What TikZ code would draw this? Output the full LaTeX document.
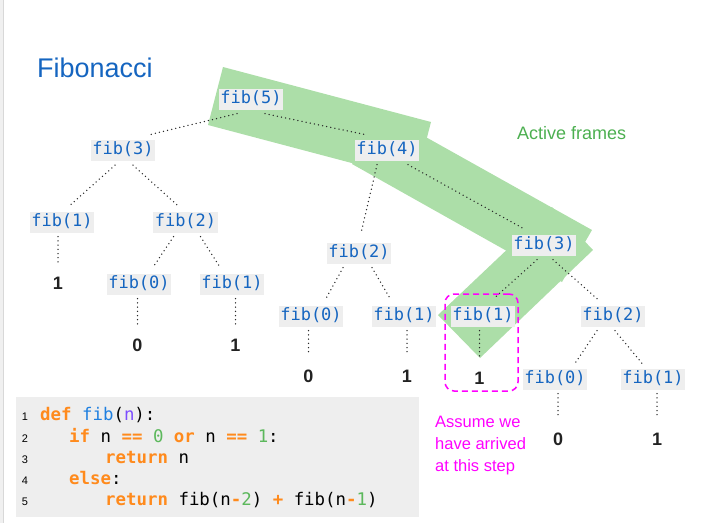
\documentclass[tikz,border=0pt]{standalone}
\usepackage{fontspec}
\setmainfont{Liberation Sans}
\newfontfamily\monof{DejaVu Sans Mono}
\usetikzlibrary{calc}
\definecolor{tblue}{HTML}{1565C0}
\definecolor{boxgray}{HTML}{EEEEEE}
\definecolor{bandgreen}{HTML}{ACDEA8}
\definecolor{agreen}{HTML}{4CAF50}
\definecolor{edgegray}{HTML}{2A2A2A}
\definecolor{valblack}{HTML}{222222}
\definecolor{codebg}{HTML}{EEEEEE}
\definecolor{corange}{HTML}{FF8A1C}
\definecolor{cblue}{HTML}{1E7FE0}
\definecolor{cpurple}{HTML}{7C4DFF}
\definecolor{cgreen}{HTML}{5CB85C}
\definecolor{focusmag}{HTML}{FF00FF}
\definecolor{stripgray}{HTML}{D8D8D8}
\newcommand\kwd[1]{\textcolor{corange}{\bfseries #1}}
\newcommand\opr[1]{\textcolor{corange}{\bfseries #1}}
\newcommand\nmb[1]{\textcolor{cgreen}{#1}}
\newcommand\fibedge[6]{\draw[edge] ($(#1.south)+(#3,#4)$) -- ($(#2.north)+(#5,#6)$);}
\newcommand\valedge[2]{\draw[edge] ($(#1.south -| #2)+(0,4)$) -- ($(#2.north)+(0,-14)$);}
\begin{document}
\begin{tikzpicture}[x=1pt,y=-1pt,
  fibnode/.style={fill=boxgray, text=tblue, font=\monof\fontsize{17}{19}\selectfont,
    inner xsep=1.5pt, inner ysep=2.5pt, text height=12pt, text depth=4pt},
  valnode/.style={font=\bfseries\fontsize{18}{20}\selectfont, text=valblack, inner sep=0pt},
  edge/.style={draw=edgegray, line width=1.5pt, line cap=round, dash pattern=on 0pt off 4.2pt},
  band/.style={fill=bandgreen},
  code/.style={anchor=base west, inner sep=0pt, font=\monof\fontsize{17.4}{20}\selectfont},
  lnum/.style={anchor=base, inner sep=0pt, font=\fontsize{11}{13}\selectfont},
]
\useasboundingbox (0,0) rectangle (710,523);
% left strip
\fill[white!94!black] (0,0) rectangle (4,523);
\draw[stripgray, line width=1pt] (3.5,0) -- (3.5,523);

% active frames band
\fill[band] (223,67) -- (431,122) -- (416,180) -- (208,125) -- cycle;
\fill[band] (381,112) -- (592,230) -- (562,282) -- (352,164) -- cycle;
\fill[band] (552,207) -- (593,250) -- (480,358) -- (438,315) -- cycle;

% title and labels
\node[anchor=base west, inner sep=0pt, font=\fontsize{27}{30}\selectfont, text=tblue] (title) at (37,77) {Fibonacci};
\node[anchor=base west, inner sep=0pt, font=\fontsize{18}{20}\selectfont, text=agreen] (active) at (517,139) {Active frames};
\node[anchor=north west, inner sep=0pt, align=left, font=\fontsize{16.5}{22}\selectfont, text=focusmag] (assume) at (435,416) {Assume we\\have arrived\\at this step};

% tree nodes
\node[fibnode] (f5) at (251,99) {fib(5)};
\node[fibnode] (f3) at (123,150.5) {fib(3)};
\node[fibnode] (f4) at (387,150) {fib(4)};
\node[fibnode] (f1a) at (62,222) {fib(1)};
\node[fibnode] (f2a) at (185.5,222) {fib(2)};
\node[fibnode] (f0a) at (139,284) {fib(0)};
\node[fibnode] (f1b) at (232,284) {fib(1)};
\node[fibnode] (f2b) at (359,253) {fib(2)};
\node[fibnode] (f0b) at (311,316) {fib(0)};
\node[fibnode] (f1c) at (404,316) {fib(1)};
\node[fibnode] (f3b) at (544,245) {fib(3)};
\node[fibnode] (f1d) at (483,316) {fib(1)};
\node[fibnode] (f2c) at (613,316) {fib(2)};
\node[fibnode] (f0c) at (555,379) {fib(0)};
\node[fibnode] (f1e) at (653,379) {fib(1)};

% values
\node[valnode] (v1a) at (58,283) {1};
\node[valnode] (v0a) at (137.5,345) {0};
\node[valnode] (v1b) at (235.5,345) {1};
\node[valnode] (v0b) at (308.5,376) {0};
\node[valnode] (v1c) at (407,376) {1};
\node[valnode] (v1d) at (479.5,378) {1};
\node[valnode] (v0c) at (558,439) {0};
\node[valnode] (v1e) at (657,439) {1};

% edges
\fibedge{f5}{f3}{-14}{4}{26}{-5}
\fibedge{f5}{f4}{14}{4}{-23}{-5}
\fibedge{f3}{f1a}{-8}{4}{8}{-6}
\fibedge{f3}{f2a}{10}{4}{-8}{-6}
\fibedge{f2a}{f0a}{-12}{4}{14}{-6}
\fibedge{f2a}{f1b}{15}{4}{-12}{-6}
\fibedge{f4}{f2b}{-10}{4}{2}{-9}
\fibedge{f4}{f3b}{21}{4}{-21}{-6}
\fibedge{f2b}{f0b}{-16}{4}{14}{-5}
\fibedge{f2b}{f1c}{13}{4}{-14}{-7}
\fibedge{f3b}{f1d}{-7}{4}{11}{-7}
\fibedge{f3b}{f2c}{9}{4}{-13}{-4}
\fibedge{f2c}{f0c}{-16}{4}{20}{-5}
\fibedge{f2c}{f1e}{2}{4}{-11}{-5}
\valedge{f1a}{v1a}
\valedge{f0a}{v0a}
\valedge{f1b}{v1b}
\valedge{f0b}{v0b}
\valedge{f1c}{v1c}
\valedge{f1d}{v1d}
\valedge{f0c}{v0c}
\valedge{f1e}{v1e}

% focus box
\node[draw=focusmag, line width=1.5pt, dash pattern=on 6pt off 4pt, rounded corners=9pt,
  minimum width=73pt, minimum height=97pt, inner sep=0pt] (focus) at (481.5,342.5) {};

% code block
\fill[codebg] (16,397) rectangle (419,517);
\node[lnum] (n1) at (25,420) {1};
\node[lnum] (n2) at (25,442) {2};
\node[lnum] (n3) at (25,463) {3};
\node[lnum] (n4) at (25,484) {4};
\node[lnum] (n5) at (25,505) {5};
\node[code] (c1) at (40,420) {\kwd{def} \textcolor{cblue}{fib}(\textcolor{cpurple}{n}):};
\node[code] (c2) at (69,442) {\kwd{if} n \opr{==} \nmb{0} \kwd{or} n \opr{==} \nmb{1}:};
\node[code] (c3) at (105,463) {\kwd{return} n};
\node[code] (c4) at (69,484) {\kwd{else}:};
\node[code] (c5) at (105,505) {\kwd{return} fib(n\opr{-}\nmb{2}) \opr{+} fib(n\opr{-}\nmb{1})};
\end{tikzpicture}
\end{document}
